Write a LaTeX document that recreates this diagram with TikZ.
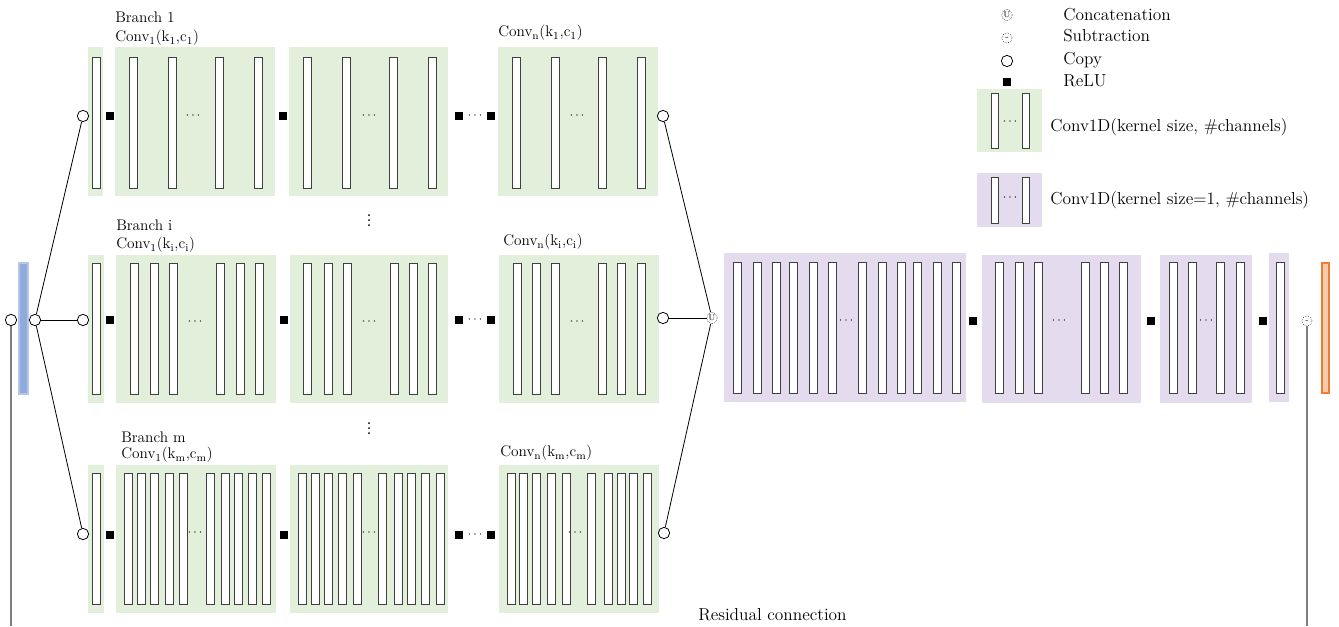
\documentclass[tikz,border=0pt]{standalone}
\usepackage{tikz}
\usetikzlibrary{shapes.geometric}

\definecolor{convgreen}{RGB}{226,239,218}
\definecolor{convpurple}{RGB}{228,219,239}
\definecolor{barline}{RGB}{64,64,64}
\definecolor{inblue}{RGB}{143,170,220}
\definecolor{inblueline}{RGB}{180,199,231}
\definecolor{outorange}{RGB}{248,203,173}
\definecolor{outorangeline}{RGB}{237,125,49}
\definecolor{resgray}{RGB}{127,127,127}

\newcommand{\sbs}[1]{\textsubscript{#1}}
% bars of one conv block: top y, list of left x
\newcommand{\convbars}[2]{\foreach \bx in {#2} {\draw[convbar] (\bx,#1) rectangle ++(8,131);}}

\tikzset{
  convbar/.style={draw=barline, fill=white, line width=0.7pt},
  relunode/.style={fill=black, draw=none, minimum size=6pt, inner sep=0pt},
  copynode/.style={circle, draw, fill=white, minimum size=8.5pt, inner sep=0pt, line width=0.6pt},
  catnode/.style={ellipse, draw, densely dotted, fill=white, minimum width=6.5pt, minimum height=9pt, inner sep=0pt, font=\fontsize{6}{6}\selectfont},
  subnode/.style={circle, draw, densely dotted, fill=white, minimum size=7.5pt, inner sep=0pt, font=\fontsize{6}{6}\selectfont},
  lbl/.style={anchor=west, inner sep=0.75pt, font=\fontsize{11.5}{13}\selectfont},
  legtxt/.style={anchor=west, inner sep=0.75pt, font=\fontsize{13}{15}\selectfont},
  hdots/.style={inner sep=0pt, font=\fontsize{9.5}{9.5}\selectfont},
  vdot/.style={fill=black},
  resline/.style={draw=resgray, line width=1.1pt},
}

\begin{document}
\begin{tikzpicture}[x=0.75pt,y=0.75pt,yscale=-1,xscale=1]
\useasboundingbox (0,0) rectangle (1339,626);

%Shapes: conv blocks of branch 1
\fill[convgreen] (88,47) rectangle (103,196);
\fill[convgreen] (115,47) rectangle (275,196);
\fill[convgreen] (289,47) rectangle (448,196);
\fill[convgreen] (498,47) rectangle (658,196);
\convbars{57}{92,129,168,215,254,303,342,389,428,512,551,598,637}
%Shapes: conv blocks of branch i
\fill[convgreen] (88,255) rectangle (104,403);
\fill[convgreen] (116,255) rectangle (276,403);
\fill[convgreen] (290,255) rectangle (448,403);
\fill[convgreen] (499,255) rectangle (659,403);
\convbars{263}{92,130,150,169,216,236,255,303,324,343,390,409,428,513,532,551,598,617,637}
%Shapes: conv blocks of branch m
\fill[convgreen] (88,465) rectangle (104,613);
\fill[convgreen] (116,465) rectangle (276,613);
\fill[convgreen] (290,465) rectangle (448,613);
\fill[convgreen] (499,465) rectangle (659,613);
\convbars{473}{92,124,137,150,165,179,206,221,234,248,262,298,311,324,338,353,378,394,407,421,436,507,519,532,547,562,587,604,617,629,643}
%Shapes: kernel size 1 blocks
\fill[convpurple] (724,253) rectangle (966,402);
\fill[convpurple] (982,255) rectangle (1141,403);
\fill[convpurple] (1160,255) rectangle (1252,403);
\fill[convpurple] (1269,253) rectangle (1289,402);
\convbars{262}{733,753,772,789,809,828,858,878,897,913,933,952,995,1015,1034,1081,1100,1119,1169,1188,1216,1236,1276}

%Shapes: input and output
\filldraw[fill=inblue, draw=inblueline, line width=0.8pt] (19,263) rectangle (28,394);
\filldraw[fill=outorange, draw=outorangeline, line width=0.8pt] (1322,263) rectangle (1329,393);

% ReLU nodes
\node[relunode] (r11) at (110,116) {};
\node[relunode] (r12) at (283,116) {};
\node[relunode] (r13) at (459,116) {};
\node[relunode] (r14) at (491,116) {};
\node[relunode] (ri1) at (110,320) {};
\node[relunode] (ri2) at (284,320) {};
\node[relunode] (ri3) at (459,320) {};
\node[relunode] (ri4) at (491,320) {};
\node[relunode] (rm1) at (110,535) {};
\node[relunode] (rm2) at (284,535) {};
\node[relunode] (rm3) at (459,535) {};
\node[relunode] (rm4) at (491,535) {};
\node[relunode] (rp1) at (973,321) {};
\node[relunode] (rp2) at (1151,321) {};
\node[relunode] (rp3) at (1263,321) {};

% Dots
\foreach \dx/\dy in {193/116,369/116,475/116,577/116,195/322,369/322,475/320,577/322,195/533,369/533,475/535,575/533,846/321,1059/321,1206/321}
  {\node[hdots] at (\dx,\dy) {$\cdots$};}
\foreach \vy in {215,220,225,423,428,433}
  {\fill[vdot] (369,\vy) circle (0.75pt);}

% Copy, concatenation and subtraction nodes
\node[copynode] (resin) at (11,320) {};
\node[copynode] (split) at (35,320) {};
\node[copynode] (c1in) at (83,116) {};
\node[copynode] (ciin) at (83,320) {};
\node[copynode] (cmin) at (83,534) {};
\node[copynode] (c1out) at (663,116) {};
\node[copynode] (ciout) at (663,318) {};
\node[copynode] (cmout) at (664,533) {};
\node[catnode] (cat) at (712,318) {U};
\node[subnode] (diff) at (1307,321) {-};
\coordinate (resL) at (11,626);
\coordinate (resR) at (1307,626);

%Straight Lines
\draw[line width=0.6pt] (split) -- (c1in);
\draw[line width=0.6pt] (split) -- (ciin);
\draw[line width=0.6pt] (split) -- (cmin);
\draw[line width=0.6pt] (c1out) -- (cat);
\draw[line width=0.6pt] (ciout) -- (cat);
\draw[line width=0.6pt] (cmout) -- (cat);
\draw[resline] (resin) -- (resL);
\draw[resline] (diff) -- (resR);

% Text Node
\node[lbl] (b1) at (114,17) {Branch 1};
\node[lbl] (b1c1) at (114,38) {Conv\sbs{1}(k\sbs{1},c\sbs{1})};
\node[lbl] (b1cn) at (497,33) {Conv\sbs{n}(k\sbs{1},c\sbs{1})};
\node[lbl] (bi) at (115,225) {Branch i};
\node[lbl] (bic1) at (115,245) {Conv\sbs{1}(k\sbs{i},c\sbs{i})};
\node[lbl] (bicn) at (502,242) {Conv\sbs{n}(k\sbs{i},c\sbs{i})};
\node[lbl] (bm) at (120,437) {Branch m};
\node[lbl] (bmc1) at (120,455) {Conv\sbs{1}(k\sbs{m},c\sbs{m})};
\node[lbl] (bmcn) at (499,453) {Conv\sbs{n}(k\sbs{m},c\sbs{m})};
\node[legtxt] (restxt) at (697,615) {Residual connection};

% Legend
\node[catnode] (lcat) at (1007,15) {U};
\node[subnode] (lsub) at (1007,38) {-};
\node[copynode] (lcopy) at (1007,61) {};
\node[relunode] (lrelu) at (1007,82) {};
\node[legtxt] (tcat) at (1062,15) {Concatenation};
\node[legtxt] (tsub) at (1062,36) {Subtraction};
\node[legtxt] (tcopy) at (1062,60) {Copy};
\node[legtxt] (trelu) at (1062,81) {ReLU};
\fill[convgreen] (977,89) rectangle (1042,152);
\draw[convbar] (991,93) rectangle (998,148);
\draw[convbar] (1022,93) rectangle (1029,148);
\node[hdots] at (1010,122) {$\cdots$};
\node[legtxt] (tconv) at (1049,127) {Conv1D(kernel size, \#channels)};
\fill[convpurple] (977,173) rectangle (1042,227);
\draw[convbar] (991,177) rectangle (998,223);
\draw[convbar] (1022,177) rectangle (1029,223);
\node[hdots] at (1010,198) {$\cdots$};
\node[legtxt] (tconvone) at (1049,200) {Conv1D(kernel size=1, \#channels)};

\end{tikzpicture}
\end{document}
